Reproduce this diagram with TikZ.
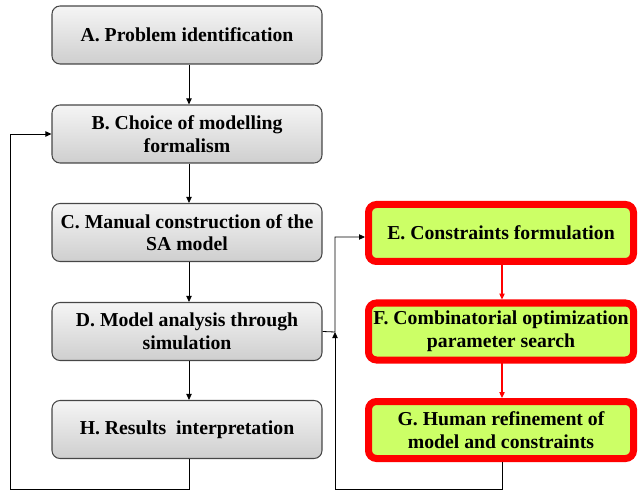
\documentclass[tikz,border=0pt]{standalone}
\usepackage{fontspec}
\setmainfont{Liberation Serif}
\usetikzlibrary{arrows.meta}
\definecolor{lime}{RGB}{204,255,102}
\definecolor{edgegray}{RGB}{70,70,70}
\tikzset{
  graybox/.style={draw=edgegray, line width=0.8pt, rounded corners=6pt,
    top color=gray!8, bottom color=gray!38, minimum width=202.5pt, minimum height=43.5pt,
    inner sep=0pt, align=center, font=\fontsize{14.8}{17}\selectfont\bfseries},
  redbox/.style={draw=red, line width=5.25pt, rounded corners=6pt, fill=lime,
    minimum width=198.75pt, minimum height=42.75pt, outer sep=2.6pt,
    inner sep=0pt, align=center, font=\fontsize{14.8}{17}\selectfont\bfseries},
  arr/.style={line width=0.6pt, -{Triangle[length=4.5pt,width=4pt]}},
  ln/.style={line width=0.6pt},
  redarr/.style={red, line width=0.8pt, -{Triangle[length=4.5pt,width=4pt]}}
}
\begin{document}
\begin{tikzpicture}[x=0.75pt,y=-0.75pt]
\useasboundingbox (0,0) rectangle (638,491);
\node[graybox] (A) at (187,35) {A. Problem identification};
\node[graybox] (B) at (187,134) {B. Choice of modelling\\formalism};
\node[graybox] (C) at (187,232.5) {C. Manual construction of the\\SA model};
\node[graybox] (D) at (187,331.5) {D. Model analysis through\\simulation};
\node[graybox] (H) at (187,429.5) {H. Results\ \ interpretation};
\node[redbox] (E) at (501,233) {E. Constraints formulation};
\node[redbox] (F) at (501,331.5) {F. Combinatorial optimization\\parameter search};
\node[redbox] (G) at (501,430) {G. Human refinement of\\model and constraints};
\coordinate (hb) at (189,489);
\coordinate (lb) at (10,489);
\coordinate (gb) at (502,489);
\coordinate (rb) at (335,489);
\coordinate (dj) at (335,332);
\coordinate (ej) at (335,237);
\draw[arr] (A.south -| 189,0) -- (B.north -| 189,0);
\draw[arr] (B.south -| 189,0) -- (C.north -| 189,0);
\draw[arr] (C.south -| 189,0) -- (D.north -| 189,0);
\draw[arr] (D.south -| 189,0) -- (H.north -| 189,0);
\draw[arr] (H.south -| 189,0) -- (hb) -- (lb) |- (B.west);
\draw[arr] (G.south -| 502,0) -- (gb) -- (rb) -- (dj);
\draw[arr] (D.east) -- (dj) -- (ej) -- (E.west |- ej);
\draw[redarr] (E.south -| 502,0) -- (F.north -| 502,0);
\draw[redarr] (F.south -| 502,0) -- (G.north -| 502,0);
\end{tikzpicture}
\end{document}
